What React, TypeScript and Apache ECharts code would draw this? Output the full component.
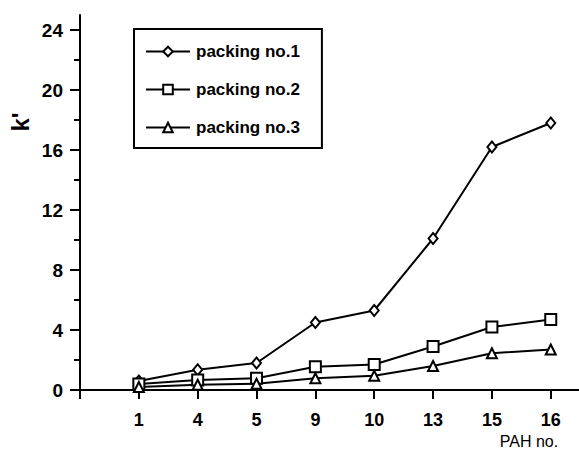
import React, { useEffect, useRef } from "react";
import * as echarts from "echarts";

const categories = ["1", "4", "5", "9", "10", "13", "15", "16"];
const packing1 = [0.6, 1.35, 1.8, 4.5, 5.3, 10.1, 16.2, 17.8];
const packing2 = [0.4, 0.67, 0.78, 1.55, 1.7, 2.9, 4.2, 4.7];
const packing3 = [0.2, 0.35, 0.42, 0.78, 0.95, 1.6, 2.45, 2.7];
const yMajorTicks = [0, 4, 8, 12, 16, 20, 24];
const yMinorTicks = [2, 6, 10, 14, 18, 22];
const seriesNames = ["packing no.1", "packing no.2", "packing no.3"];

const toPoints = (vals: number[]) => vals.map((v, i) => [i + 1, v]);

export default function App() {
  const ref = useRef<HTMLDivElement>(null);
  useEffect(() => {
    if (!ref.current) return;
    const chart = echarts.init(ref.current, null, { renderer: "svg" });
    const font = "Liberation Sans, Arial, Helvetica, sans-serif";
    const mkSeries = (name: string, data: number[], symbol: string, size: any) => ({
      name,
      type: "line",
      data: toPoints(data),
      symbol,
      symbolSize: size,
      lineStyle: { color: "#000", width: 2 },
      itemStyle: { color: "#fff", borderColor: "#000", borderWidth: 2 },
      emphasis: { disabled: true },
    });
    chart.setOption({
      animation: false,
      backgroundColor: "#fff",
      textStyle: { fontFamily: font, color: "#000" },
      grid: { left: 80, right: 0, top: 15, bottom: 61, containLabel: false },
      legend: {
        orient: "vertical",
        left: 134,
        top: 29,
        padding: [14, 22, 12, 11],
        itemGap: 21,
        itemWidth: 44,
        itemHeight: 12,
        borderColor: "#000",
        borderWidth: 2,
        borderRadius: 0,
        textStyle: { fontFamily: font, fontWeight: "bold", fontSize: 17, color: "#000", padding: [0, 0, 0, 1] },
        data: seriesNames,
      },
      xAxis: {
        type: "value",
        min: 0,
        max: 8.48,
        axisLine: { show: true, onZero: false, lineStyle: { color: "#000", width: 2 } },
        axisTick: { show: true, length: 9, customValues: [0, 1, 2, 3, 4, 5, 6, 7, 8], lineStyle: { color: "#000", width: 2 } },
        axisLabel: {
          customValues: [1, 2, 3, 4, 5, 6, 7, 8],
          formatter: (v: number) => categories[Math.round(v) - 1] ?? "",
          fontFamily: font,
          fontWeight: "bold",
          fontSize: 18,
          color: "#000",
          margin: 21,
        },
        splitLine: { show: false },
      },
      yAxis: [
        {
          type: "value",
          min: 0,
          max: 25,
          axisLine: { show: true, lineStyle: { color: "#000", width: 2 } },
          axisTick: { show: true, length: 10, customValues: yMajorTicks, lineStyle: { color: "#000", width: 2 } },
          axisLabel: {
            customValues: yMajorTicks,
            fontFamily: font,
            fontWeight: "bold",
            fontSize: 19,
            color: "#000",
            margin: 17,
          },
          splitLine: { show: false },
        },
        {
          type: "value",
          min: 0,
          max: 25,
          position: "left",
          axisLine: { show: false },
          axisTick: { show: true, length: 6, customValues: yMinorTicks, lineStyle: { color: "#000", width: 2 } },
          axisLabel: { show: false },
          splitLine: { show: false },
        },
      ],
      graphic: [
        {
          type: "text",
          x: 20,
          y: 122,
          rotation: Math.PI / 2,
          style: { text: "k'", font: `bold 24px ${font}`, fill: "#000", align: "center", verticalAlign: "middle" },
        },
        {
          type: "text",
          x: 529,
          y: 441,
          style: { text: "PAH no.", font: `16px ${font}`, fill: "#000", align: "center", verticalAlign: "middle" },
        },
      ],
      series: [
        mkSeries(seriesNames[0], packing1, "diamond", [9, 11]),
        mkSeries(seriesNames[1], packing2, "rect", 11),
        mkSeries(seriesNames[2], packing3, "triangle", 10),
      ],
    });
    return () => chart.dispose();
  }, []);
  return <div ref={ref} style={{ position: "fixed", left: 0, top: 0, width: 579, height: 451 }} />;
}
